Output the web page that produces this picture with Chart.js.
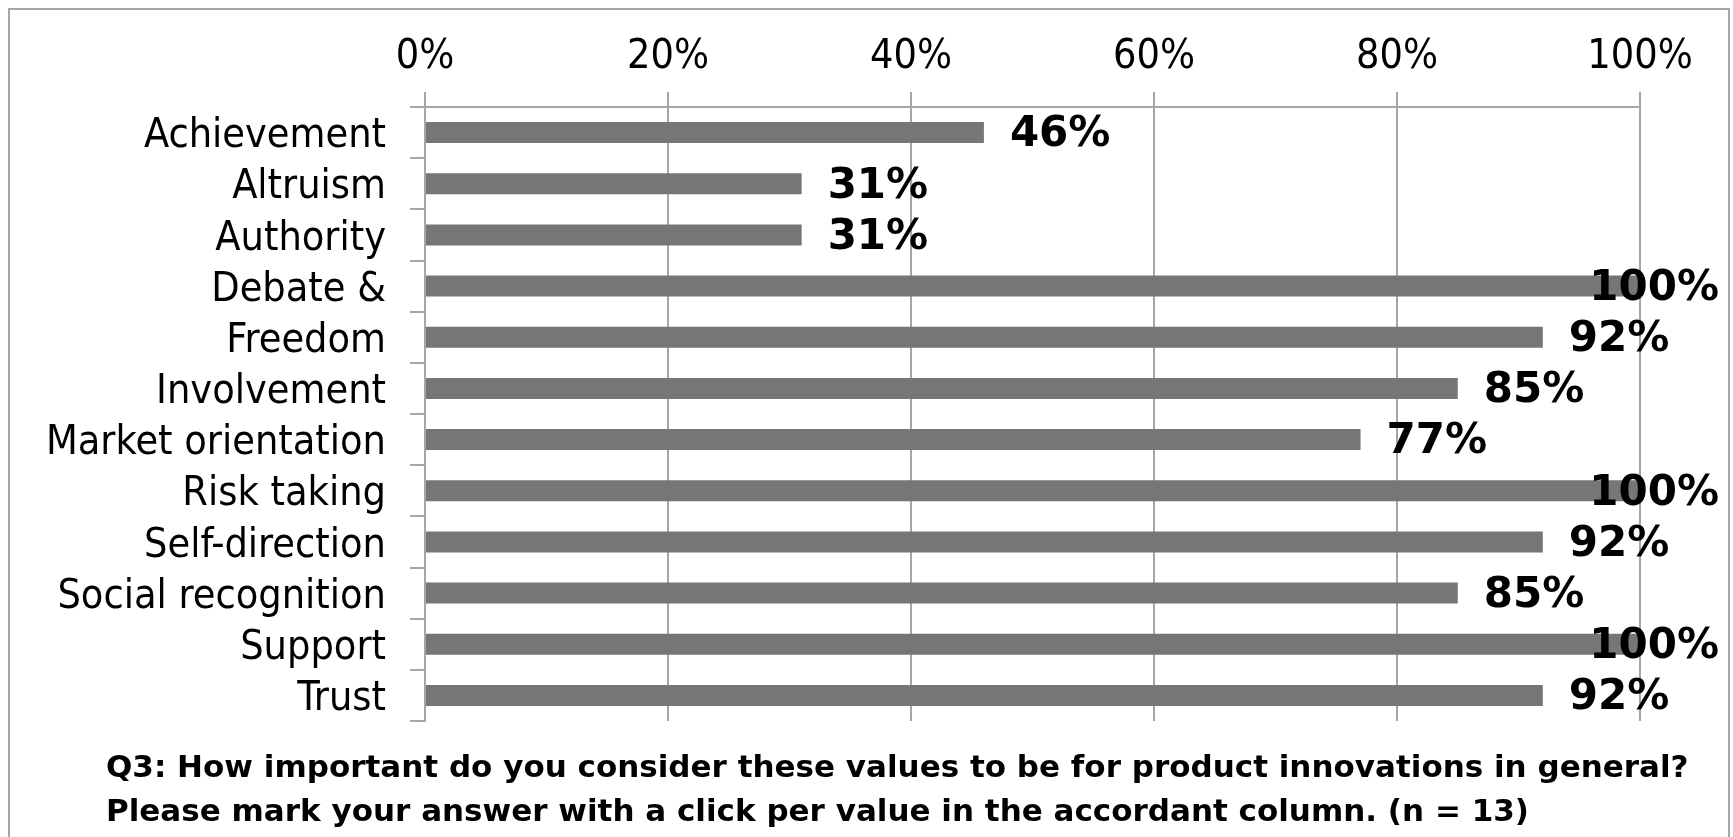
<!DOCTYPE html>
<html>
<head>
<meta charset="utf-8">
<script src="https://cdn.jsdelivr.net/npm/chart.js@4"></script>
<style>
  html, body { margin: 0; padding: 0; background: #fff; overflow: hidden; }
  #wrap { position: relative; width: 1733px; height: 837px; }
  #frame { position: absolute; left: 8px; top: 8px; width: 1718px; height: 1000px; border: 2px solid #a6a6a6; }
  #chart { position: absolute; left: 0; top: 0; }
  #caption {
    position: absolute; left: 106px; top: 744px;
    font: bold 31px "DejaVu Sans", sans-serif;
    line-height: 44px; color: #000; white-space: nowrap;
  }
</style>
</head>
<body>
<div id="wrap">
  <div id="frame"></div>
  <canvas id="chart" width="1733" height="837"></canvas>
  <div id="caption">Q3: How important do you consider these values to be for product innovations in general?<br>Please mark your answer with a click per value in the accordant column. (n = 13)</div>
</div>
<script>
const categories = ['Achievement', 'Altruism', 'Authority', 'Debate &', 'Freedom', 'Involvement',
  'Market orientation', 'Risk taking', 'Self-direction', 'Social recognition', 'Support', 'Trust'];
const shares = [46, 31, 31, 100, 92, 85, 77, 100, 92, 85, 100, 92];
const xTicks = [0, 20, 40, 60, 80, 100];

const FAMILY = '"DejaVu Sans Condensed", "DejaVu Sans", sans-serif';
const BOLD_FAMILY = '"DejaVu Sans", sans-serif';
const GRID = '#a6a6a6';

// value labels just past the end of each bar, pulled back inside the frame when needed
const barLabels = {
  id: 'barLabels',
  afterDatasetsDraw(chart) {
    const ctx = chart.ctx;
    const meta = chart.getDatasetMeta(0);
    ctx.save();
    ctx.font = 'bold 42px ' + BOLD_FAMILY;
    ctx.fillStyle = '#000';
    ctx.textBaseline = 'middle';
    meta.data.forEach((bar, i) => {
      const txt = shares[i] + '%';
      const w = ctx.measureText(txt).width;
      let x = bar.x + 26;
      if (x + w > 1719) x = 1719 - w;
      ctx.fillText(txt, x, bar.y + 3);
    });
    ctx.restore();
  }
};

new Chart(document.getElementById('chart'), {
  type: 'bar',
  data: {
    labels: categories,
    datasets: [{
      data: shares,
      backgroundColor: '#767676',
      barPercentage: 0.41,
      categoryPercentage: 1
    }]
  },
  options: {
    indexAxis: 'y',
    responsive: false,
    animation: false,
    layout: { padding: { top: 0, left: 0, right: 93, bottom: 116 } },
    plugins: { legend: { display: false }, tooltip: { enabled: false } },
    scales: {
      x: {
        position: 'top',
        min: 0,
        max: 100,
        afterBuildTicks: s => { s.ticks = xTicks.map(v => ({ value: v })); },
        afterFit: s => { s.height = 107; },
        ticks: {
          callback: v => v + '%',
          color: '#000',
          padding: 10,
          autoSkip: false,
          maxRotation: 0,
          font: { family: FAMILY, size: 41 }
        },
        grid: { color: GRID, lineWidth: 2, tickLength: 15 },
        border: { color: GRID, width: 2 }
      },
      y: {
        afterFit: s => { s.width = 425; },
        ticks: {
          color: '#000',
          padding: 24,
          labelOffset: 4,
          autoSkip: false,
          font: { family: FAMILY, size: 41 }
        },
        grid: { offset: true, drawOnChartArea: false, color: GRID, lineWidth: 2, tickLength: 15 },
        border: { color: GRID, width: 2 }
      }
    }
  },
  plugins: [barLabels]
});
</script>
</body>
</html>
